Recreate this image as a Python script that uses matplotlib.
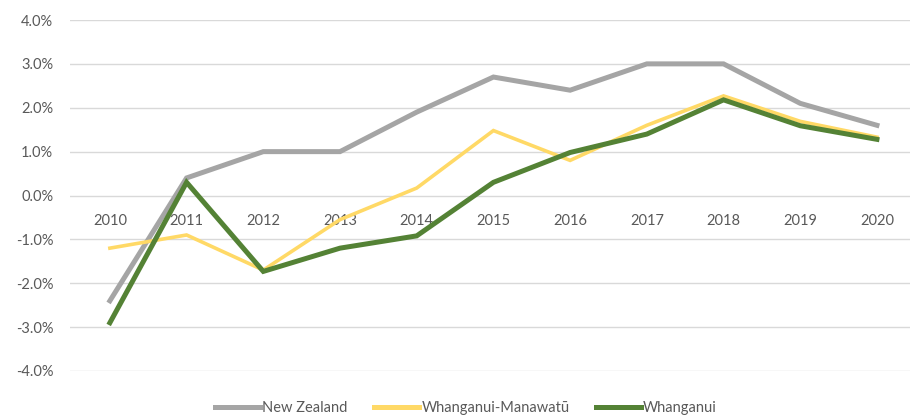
import matplotlib.pyplot as plt
from matplotlib.ticker import FuncFormatter

years = ["2010", "2011", "2012", "2013", "2014", "2015", "2016", "2017", "2018", "2019", "2020"]
new_zealand = [-2.4, 0.4, 1.0, 1.0, 1.9, 2.7, 2.4, 3.0, 3.0, 2.1, 1.6]
whanganui_manawatu = [-1.2, -0.9, -1.7, -0.55, 0.17, 1.48, 0.8, 1.6, 2.27, 1.69, 1.33]
whanganui = [-2.9, 0.3, -1.73, -1.2, -0.92, 0.3, 0.98, 1.4, 2.18, 1.59, 1.28]

plt.rcParams["font.family"] = ["Lato", "DejaVu Sans"]
text_color = "#595959"

fig = plt.figure(figsize=(9.1, 4.2), dpi=100)
ax = fig.add_axes([70 / 910, 1 - 371 / 420, 843 / 910, 351 / 420])

x = list(range(len(years)))
ax.plot(x, new_zealand, color="#A5A5A5", lw=3.6, label="New Zealand", solid_joinstyle="miter")
ax.plot(x, whanganui_manawatu, color="#FFD966", lw=2.6, label="Whanganui-Manawatū", solid_joinstyle="miter")
ax.plot(x, whanganui, color="#548235", lw=3.6, label="Whanganui", solid_joinstyle="miter")

ax.set_ylim(-4, 4)
ax.set_xlim(-0.52, 10.47)
ax.set_yticks(range(-4, 5))
ax.yaxis.set_major_formatter(FuncFormatter(lambda v, p: f"{v:.1f}%"))
ax.set_xticks(x)
ax.set_xticklabels(years)

ax.grid(axis="y", color="#D9D9D9", lw=1)
ax.set_axisbelow(True)
for s in ax.spines.values():
    s.set_visible(False)
ax.spines["bottom"].set_position(("data", 0))

ax.tick_params(axis="both", length=0, labelsize=10.5, colors=text_color)
ax.tick_params(axis="y", pad=12)
ax.tick_params(axis="x", pad=13)

leg = fig.legend(loc="center", bbox_to_anchor=(466 / 910, 1 - 408 / 420), ncol=3,
                 frameon=False, fontsize=10.5, handlelength=3.1, handletextpad=0.15,
                 columnspacing=1.8, labelcolor=text_color)
for h in leg.legend_handles:
    h.set_linewidth(3.6)

fig.savefig("out.png", dpi=100, facecolor="white")
